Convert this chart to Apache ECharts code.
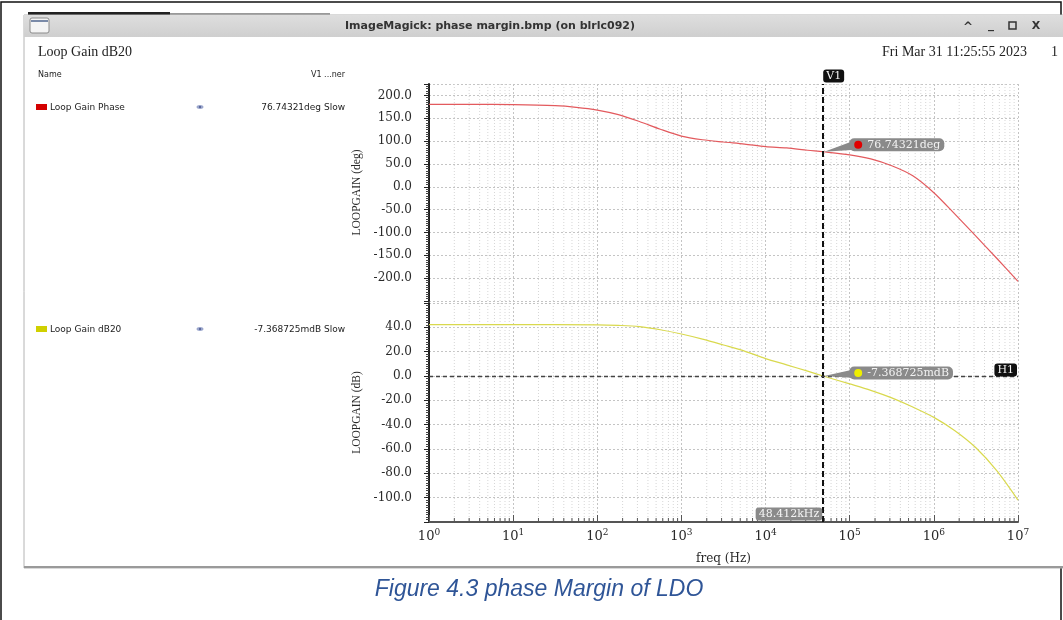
<!DOCTYPE html>
<html>
<head>
<meta charset="utf-8">
<script src="https://cdn.jsdelivr.net/npm/echarts@6/dist/echarts.min.js"></script>
<style>
  html, body { margin: 0; padding: 0; background: #ffffff; }
  #chart { width: 1063px; height: 620px; }
</style>
</head>
<body>
<div id="chart"></div>
<script>
// Loop gain phase vs frequency (Hz -> degrees)
const phaseFreq = [1, 3.16, 10, 31.6, 56.2, 100, 178, 316, 562, 1000, 1780, 3160, 5620, 10000, 17800, 31600, 48412,
  100000, 178000, 316000, 562000, 1000000, 1780000, 3160000, 5620000, 10000000];
const phaseDeg = [180.6, 180.4, 179.8, 177.5, 174, 168, 158, 143, 126, 111, 103, 98, 93.5, 88, 85, 80, 76.74321,
  70, 61, 46, 24, -13, -60, -108, -157, -207];

// Loop gain magnitude vs frequency (Hz -> dB)
const gainFreq = [1, 10, 100, 178, 316, 562, 1000, 1780, 3160, 5620, 10000, 17800, 31600, 48412,
  100000, 178000, 316000, 562000, 1000000, 1780000, 3160000, 5620000, 10000000];
const gainDb = [42.3, 42.3, 42.1, 41.6, 40.6, 38, 34.5, 30.3, 25.5, 20.5, 14.3, 9.2, 4, -0.007368725,
  -6.5, -11.8, -18, -25.5, -34, -45, -59, -78, -102];

// Cursor readouts
const cursorFreq = 48412;          // V1 vertical cursor, Hz
const cursorPhase = 76.74321;      // deg at V1
const cursorGain = -0.007368725;   // dB at V1 (displayed in mdB)
const hCursorLevel = 0;            // H1 horizontal cursor, dB

// Tick labels
const decadeExponents = [0, 1, 2, 3, 4, 5, 6, 7];
const phaseTicks = [-200, -150, -100, -50, 0, 50, 100, 150, 200];
const gainTicks = [-100, -80, -60, -40, -20, 0, 20, 40];

// Axis extents
const X_MIN = 0, X_MAX = 7;                 // log10(Hz)
const PH_MIN = -250, PH_MAX = 225, PH_STEP = 50;
const DB_MIN = -120, DB_MAX = 60, DB_STEP = 20;

const SERIF = '"DejaVu Serif", serif';
const NAME_SERIF = '"Liberation Serif", serif';
const SANS = '"DejaVu Sans", sans-serif';

const lg = Math.log10;
const phasePts = phaseFreq.map((f, i) => [lg(f), phaseDeg[i]]);
const gainPts = gainFreq.map((f, i) => [lg(f), gainDb[i]]);

// positions of the 2..9 minor lines inside each decade
const minorX = [];
for (let d = X_MIN; d < X_MAX; d++) {
  for (let k = 2; k <= 9; k++) minorX.push([d + lg(k), 0]);
}

function minorGrid(yMin, yMax, withTicks) {
  return function (params, api) {
    const x = api.value(0);
    const top = api.coord([x, yMax]);
    const bot = api.coord([x, yMin]);
    const children = [{
      type: 'line',
      shape: { x1: top[0], y1: top[1], x2: bot[0], y2: bot[1] },
      style: { stroke: '#d6d6d6', lineWidth: 1, lineDash: [1, 2] }
    }];
    if (withTicks) {
      children.push({
        type: 'line',
        shape: { x1: bot[0], y1: bot[1], x2: bot[0], y2: bot[1] - 4 },
        style: { stroke: '#555', lineWidth: 1 }
      });
    }
    return { type: 'group', children };
  };
}

function callout(p, text, dotColor, boxDy) {
  const bx = p[0] + 26;
  const cy = p[1] + boxDy;
  return [
    {
      type: 'polygon',
      shape: { points: [[p[0] + 1, p[1]], [bx + 2, cy - 3], [bx + 6, cy + 5]] },
      style: { fill: '#8a8a8a' }
    },
    {
      type: 'text',
      x: bx, y: cy,
      style: {
        text: text, font: '11px ' + SERIF, fill: '#f2f2f2',
        align: 'left', verticalAlign: 'middle',
        backgroundColor: '#8a8a8a', borderRadius: 5, padding: [1, 4, 1, 18]
      }
    },
    {
      type: 'circle',
      shape: { cx: bx + 9, cy: cy, r: 4 },
      style: { fill: dotColor }
    }
  ];
}

function tag(x, y, text, bg, align) {
  return {
    type: 'text', x: x, y: y,
    style: {
      text: text, font: '11px ' + SERIF, fill: '#f5f5f5',
      align: align, verticalAlign: 'middle',
      backgroundColor: bg, borderRadius: 3, padding: [1, 3, 1, 3]
    }
  };
}

const chart = echarts.init(document.getElementById('chart'), null, { renderer: 'canvas' });

const yAxisCommon = {
  type: 'value',
  offset: 9,
  axisLine: { show: true, lineStyle: { color: '#222', width: 2 } },
  axisTick: { show: true, length: 5, lineStyle: { color: '#222' } },
  minorTick: { show: true, splitNumber: 10, length: 3, lineStyle: { color: '#444' } },
  splitLine: { show: true, lineStyle: { color: '#c4c4c4', type: [2, 2] } },
  minorSplitLine: { show: false },
  nameLocation: 'middle',
  nameRotate: 90,
  nameGap: 56,
  nameTextStyle: { fontFamily: NAME_SERIF, fontSize: 11.5, color: '#2a2a2a' }
};

const option = {
  animation: false,
  backgroundColor: '#ffffff',
  grid: [
    { left: 429, right: 45, top: 84, height: 217 },
    { left: 429, right: 45, top: 303, height: 219 }
  ],
  xAxis: [
    {
      gridIndex: 0, type: 'value', min: X_MIN, max: X_MAX, interval: 1,
      axisLine: { show: false }, axisTick: { show: false }, axisLabel: { show: false },
      splitLine: { show: true, lineStyle: { color: '#c4c4c4', type: [2, 2] } }
    },
    {
      gridIndex: 1, type: 'value', min: X_MIN, max: X_MAX, interval: 1,
      axisLine: { show: true, onZero: false, lineStyle: { color: '#555', width: 2 } },
      axisTick: { show: true, inside: true, length: 7, lineStyle: { color: '#555' } },
      splitLine: { show: true, lineStyle: { color: '#c4c4c4', type: [2, 2] } },
      axisLabel: {
        margin: 6,
        fontFamily: SERIF, fontSize: 13, color: '#2a2a2a',
        formatter: v => decadeExponents.includes(v) ? '10{s|' + v + '}' : '',
        rich: { s: { fontFamily: SERIF, fontSize: 9, color: '#2a2a2a', padding: [0, 0, 8, 0] } }
      },
      name: 'freq (Hz)',
      nameLocation: 'middle',
      nameGap: 31,
      nameTextStyle: { fontFamily: SERIF, fontSize: 12, color: '#2a2a2a' }
    }
  ],
  yAxis: [
    Object.assign({}, yAxisCommon, {
      gridIndex: 0, min: PH_MIN, max: PH_MAX, interval: PH_STEP,
      name: 'LOOPGAIN (deg)',
      axisLabel: {
        margin: 8, fontFamily: SERIF, fontSize: 12, color: '#2a2a2a',
        formatter: v => phaseTicks.includes(v) ? v.toFixed(1) : ''
      }
    }),
    Object.assign({}, yAxisCommon, {
      gridIndex: 1, min: DB_MIN, max: DB_MAX, interval: DB_STEP,
      name: 'LOOPGAIN (dB)',
      axisLabel: {
        margin: 8, fontFamily: SERIF, fontSize: 12, color: '#2a2a2a',
        formatter: v => gainTicks.includes(v) ? v.toFixed(1) : ''
      }
    })
  ],
  series: [
    {
      type: 'custom', xAxisIndex: 0, yAxisIndex: 0, silent: true, z: 1, clip: false,
      data: minorX, renderItem: minorGrid(PH_MIN, PH_MAX, false)
    },
    {
      type: 'custom', xAxisIndex: 1, yAxisIndex: 1, silent: true, z: 1, clip: false,
      data: minorX, renderItem: minorGrid(DB_MIN, DB_MAX, true)
    },
    {
      name: 'Loop Gain Phase',
      type: 'line', xAxisIndex: 0, yAxisIndex: 0,
      data: phasePts, smooth: 0.3, showSymbol: false, z: 3,
      lineStyle: { color: '#e35a5e', width: 1.2 },
      markLine: {
        silent: true, symbol: 'none', label: { show: false },
        lineStyle: { color: '#111', width: 2, type: [6, 3] },
        data: [{ xAxis: lg(cursorFreq) }]
      }
    },
    {
      name: 'Loop Gain dB20',
      type: 'line', xAxisIndex: 1, yAxisIndex: 1,
      data: gainPts, smooth: 0.3, showSymbol: false, z: 3,
      lineStyle: { color: '#d9d94e', width: 1.2 },
      markLine: {
        silent: true, symbol: 'none', label: { show: false },
        data: [
          { xAxis: lg(cursorFreq), lineStyle: { color: '#111', width: 2, type: [6, 3] } },
          { yAxis: hCursorLevel, lineStyle: { color: '#444', width: 1.3, type: [4, 3] } }
        ]
      }
    },
    {
      // V1 readout on the phase trace
      type: 'custom', xAxisIndex: 0, yAxisIndex: 0, silent: true, z: 10, clip: false,
      data: [[lg(cursorFreq), cursorPhase]],
      renderItem: function (params, api) {
        const p = api.coord([api.value(0), api.value(1)]);
        const top = api.coord([api.value(0), PH_MAX]);
        return {
          type: 'group',
          children: callout(p, cursorPhase.toFixed(5) + 'deg', '#e00000', -7)
            .concat([tag(top[0], top[1] - 8, 'V1', '#111', 'left')])
        };
      }
    },
    {
      // V1 readout on the gain trace, H1 tag and frequency tag
      type: 'custom', xAxisIndex: 1, yAxisIndex: 1, silent: true, z: 10, clip: false,
      data: [[lg(cursorFreq), cursorGain]],
      renderItem: function (params, api) {
        const p = api.coord([api.value(0), api.value(1)]);
        const axisPt = api.coord([api.value(0), DB_MIN]);
        const h1 = api.coord([X_MAX, hCursorLevel]);
        return {
          type: 'group',
          children: callout(p, (cursorGain * 1000).toFixed(6) + 'mdB', '#eeee00', -3)
            .concat([
              tag(h1[0] - 1, h1[1] - 6, 'H1', '#111', 'right'),
              tag(axisPt[0] - 1, axisPt[1] - 8, (cursorFreq / 1000).toFixed(3) + 'kHz', '#8a8a8a', 'right')
            ])
        };
      }
    }
  ],
  graphic: {
    elements: [
      // page frame
      { type: 'rect', z: -10, shape: { x: 1, y: 2, width: 1060, height: 640 },
        style: { fill: 'none', stroke: '#111', lineWidth: 1.5 } },
      { type: 'rect', z: -9, shape: { x: 28, y: 12, width: 142, height: 3 }, style: { fill: '#222' } },
      { type: 'line', z: -9, shape: { x1: 170, y1: 14, x2: 330, y2: 14 }, style: { stroke: '#333', lineWidth: 1 } },
      // window body
      { type: 'rect', z: -8, shape: { x: 24, y: 15, width: 1045, height: 553 },
        style: { fill: '#ffffff', stroke: '#b4b4b4', lineWidth: 1 } },
      { type: 'line', z: -7, shape: { x1: 24, y1: 567, x2: 1063, y2: 567 }, style: { stroke: '#9a9a9a', lineWidth: 2 } },
      // title bar
      { type: 'rect', z: -7, shape: { x: 24, y: 15, width: 1045, height: 22 },
        style: { fill: new echarts.graphic.LinearGradient(0, 0, 0, 1, [
          { offset: 0, color: '#dedede' }, { offset: 1, color: '#cfcfcf' }]) } },
      { type: 'rect', z: -6, shape: { x: 30, y: 18, width: 19, height: 15, r: 2 },
        style: { fill: '#f4f4f4', stroke: '#8c8c8c', lineWidth: 1 } },
      { type: 'line', z: -6, shape: { x1: 31, y1: 21, x2: 48, y2: 21 }, style: { stroke: '#7a8aa8', lineWidth: 2 } },
      { type: 'text', z: -6, x: 490, y: 26,
        style: { text: 'ImageMagick: phase margin.bmp (on blrlc092)', font: 'bold 11px ' + SANS,
          fill: '#333', align: 'center', verticalAlign: 'middle' } },
      { type: 'text', z: -6, x: 968, y: 28,
        style: { text: '^', font: 'bold 12px ' + SANS, fill: '#333', align: 'center', verticalAlign: 'middle' } },
      { type: 'text', z: -6, x: 991, y: 25,
        style: { text: '_', font: 'bold 12px ' + SANS, fill: '#333', align: 'center', verticalAlign: 'middle' } },
      { type: 'rect', z: -6, shape: { x: 1009, y: 22, width: 7, height: 7 },
        style: { fill: 'none', stroke: '#333', lineWidth: 1.5 } },
      { type: 'text', z: -6, x: 1036, y: 26,
        style: { text: 'X', font: 'bold 11px ' + SANS, fill: '#333', align: 'center', verticalAlign: 'middle' } },
      // header
      { type: 'text', z: -6, x: 38, y: 52,
        style: { text: 'Loop Gain dB20', font: '14px "Liberation Serif", serif', fill: '#222', verticalAlign: 'middle' } },
      { type: 'text', z: -6, x: 1027, y: 52,
        style: { text: 'Fri Mar 31 11:25:55 2023', font: '14px "Liberation Serif", serif', fill: '#222',
          align: 'right', verticalAlign: 'middle' } },
      { type: 'text', z: -6, x: 1051, y: 52,
        style: { text: '1', font: '14px "Liberation Serif", serif', fill: '#222', verticalAlign: 'middle' } },
      // legend panel
      { type: 'text', z: -6, x: 38, y: 75,
        style: { text: 'Name', font: '8px ' + SANS, fill: '#222', verticalAlign: 'middle' } },
      { type: 'text', z: -6, x: 345, y: 75,
        style: { text: 'V1 ...ner', font: '8px ' + SANS, fill: '#222', align: 'right', verticalAlign: 'middle' } },
      { type: 'rect', z: -6, shape: { x: 36, y: 104, width: 11, height: 6 }, style: { fill: '#d40000' } },
      { type: 'text', z: -6, x: 50, y: 107.5,
        style: { text: 'Loop Gain Phase', font: '9px ' + SANS, fill: '#222', verticalAlign: 'middle' } },
      { type: 'ellipse', z: -6, shape: { cx: 200, cy: 107, rx: 3.5, ry: 2 }, style: { fill: '#9aa6cc' } },
      { type: 'circle', z: -5, shape: { cx: 200, cy: 107, r: 1 }, style: { fill: '#45508a' } },
      { type: 'text', z: -6, x: 345, y: 107.5,
        style: { text: cursorPhase.toFixed(5) + 'deg Slow', font: '9px ' + SANS, fill: '#222',
          align: 'right', verticalAlign: 'middle' } },
      { type: 'rect', z: -6, shape: { x: 36, y: 326, width: 11, height: 6 }, style: { fill: '#d0d000' } },
      { type: 'text', z: -6, x: 50, y: 329.5,
        style: { text: 'Loop Gain dB20', font: '9px ' + SANS, fill: '#222', verticalAlign: 'middle' } },
      { type: 'ellipse', z: -6, shape: { cx: 200, cy: 329, rx: 3.5, ry: 2 }, style: { fill: '#9aa6cc' } },
      { type: 'circle', z: -5, shape: { cx: 200, cy: 329, r: 1 }, style: { fill: '#45508a' } },
      { type: 'text', z: -6, x: 345, y: 329.5,
        style: { text: (cursorGain * 1000).toFixed(6) + 'mdB Slow', font: '9px ' + SANS, fill: '#222',
          align: 'right', verticalAlign: 'middle' } },
      // figure caption
      { type: 'text', z: -6, x: 539, y: 590,
        style: { text: 'Figure 4.3 phase Margin of LDO', font: 'italic 23px "Liberation Sans", Arial, sans-serif',
          fill: '#2f5597', align: 'center', verticalAlign: 'middle' } }
    ]
  }
};

chart.setOption(option);
</script>
</body>
</html>
